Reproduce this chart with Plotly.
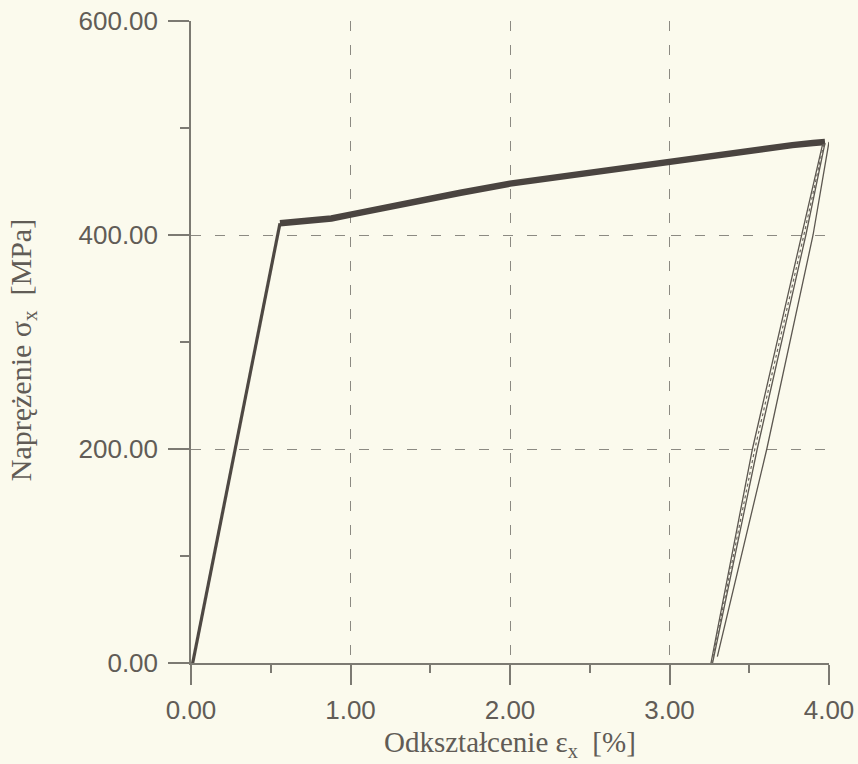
import plotly.graph_objects as go

# Elastic loading branch
elastic_eps = [0.0, 0.558]
elastic_sig = [-8.0, 411.0]

# Plastic hardening plateau
plastic_eps = [0.558, 0.62, 0.75, 0.88, 1.0, 1.13, 1.27, 1.45, 1.69, 2.0, 2.31, 2.63, 2.94, 3.25, 3.57, 3.77, 3.90, 3.975]
plastic_sig = [411.0, 412.0, 413.0, 415.5, 419.0, 423.0, 427.0, 432.0, 439.5, 448.0, 454.5, 461.0, 467.0, 473.0, 479.5, 484.0, 486.0, 487.0]

# Unloading / reloading branches
unload_a_eps = [3.96, 3.83, 3.52, 3.26]
unload_a_sig = [485.0, 400.0, 200.0, 0.0]
unload_b_eps = [3.975, 3.855, 3.55, 3.27]
unload_b_sig = [486.0, 400.0, 200.0, 0.0]
reload_eps = [3.30, 3.61, 3.90, 4.0]
reload_sig = [6.0, 200.0, 400.0, 487.0]

x_ticks = [0, 1, 2, 3, 4]
x_tick_text = ["0.00", "1.00", "2.00", "3.00", "4.00"]
y_ticks = [0, 200, 400, 600]
y_tick_text = ["0.00", "200.00", "400.00", "600.00"]

bg = "#fbfaed"
axis_col = "#7c7a72"
grid_col = "#8c8a82"
text_col = "#615c56"

fig = go.Figure()
fig.add_trace(go.Scatter(x=elastic_eps, y=elastic_sig, mode="lines",
                         line=dict(color="#4e4843", width=3.2), showlegend=False))
fig.add_trace(go.Scatter(x=plastic_eps, y=plastic_sig, mode="lines",
                         line=dict(color="#4a4440", width=6.5), showlegend=False))
fig.add_trace(go.Scatter(x=unload_a_eps, y=unload_a_sig, mode="lines",
                         line=dict(color="#5c5750", width=1.3), showlegend=False))
fig.add_trace(go.Scatter(x=unload_b_eps, y=unload_b_sig, mode="lines",
                         line=dict(color="#5c5750", width=1.3), showlegend=False))
fig.add_trace(go.Scatter(x=[(a + b) / 2 for a, b in zip(unload_a_eps, unload_b_eps)],
                         y=unload_a_sig, mode="lines",
                         line=dict(color="#6a655e", width=1.2, dash="3px,3px"), showlegend=False))
fig.add_trace(go.Scatter(x=reload_eps, y=reload_sig, mode="lines",
                         line=dict(color="#5c5750", width=1.3), showlegend=False))

fig.update_layout(
    width=858, height=764,
    margin=dict(l=191, r=29, t=21, b=101, autoexpand=False),
    paper_bgcolor=bg, plot_bgcolor=bg,
    xaxis=dict(
        range=[0, 4], tickvals=x_ticks, ticktext=x_tick_text,
        showline=True, linecolor=axis_col, linewidth=1.5,
        ticks="outside", ticklen=20, tickwidth=1.5, tickcolor=axis_col,
        minor=dict(dtick=0.5, ticks="outside", ticklen=8, tickwidth=1.5, tickcolor=axis_col, showgrid=False),
        showgrid=True, gridcolor=grid_col, gridwidth=1.2, griddash="10px,14px",
        zeroline=False, automargin=False, ticklabelstandoff=3,
        tickfont=dict(family="Liberation Sans, Arial", size=26, color=text_col),
    ),
    yaxis=dict(
        range=[0, 600], tickvals=y_ticks, ticktext=y_tick_text,
        showline=True, linecolor=axis_col, linewidth=1.5,
        ticks="outside", ticklen=21, tickwidth=1.5, tickcolor=axis_col,
        minor=dict(dtick=100, ticks="outside", ticklen=9, tickwidth=1.5, tickcolor=axis_col, showgrid=False),
        showgrid=True, gridcolor=grid_col, gridwidth=1.2, griddash="10px,14px",
        zeroline=False, automargin=False, ticklabelstandoff=5,
        tickfont=dict(family="Liberation Sans, Arial", size=26, color=text_col),
    ),
    annotations=[
        dict(text="Odkształcenie ε<sub>x</sub>  [%]", xref="paper", yref="paper",
             x=0.5, y=-0.126, xanchor="center", yanchor="middle", showarrow=False,
             font=dict(family="Liberation Serif, Times New Roman", size=29, color=text_col)),
        dict(text="Naprężenie σ<sub>x</sub>  [MPa]", xref="paper", yref="paper",
             x=-0.263, y=0.4875, xanchor="center", yanchor="middle", showarrow=False, textangle=-90,
             font=dict(family="Liberation Serif, Times New Roman", size=30, color=text_col)),
    ],
)

fig.write_html("out.html")
